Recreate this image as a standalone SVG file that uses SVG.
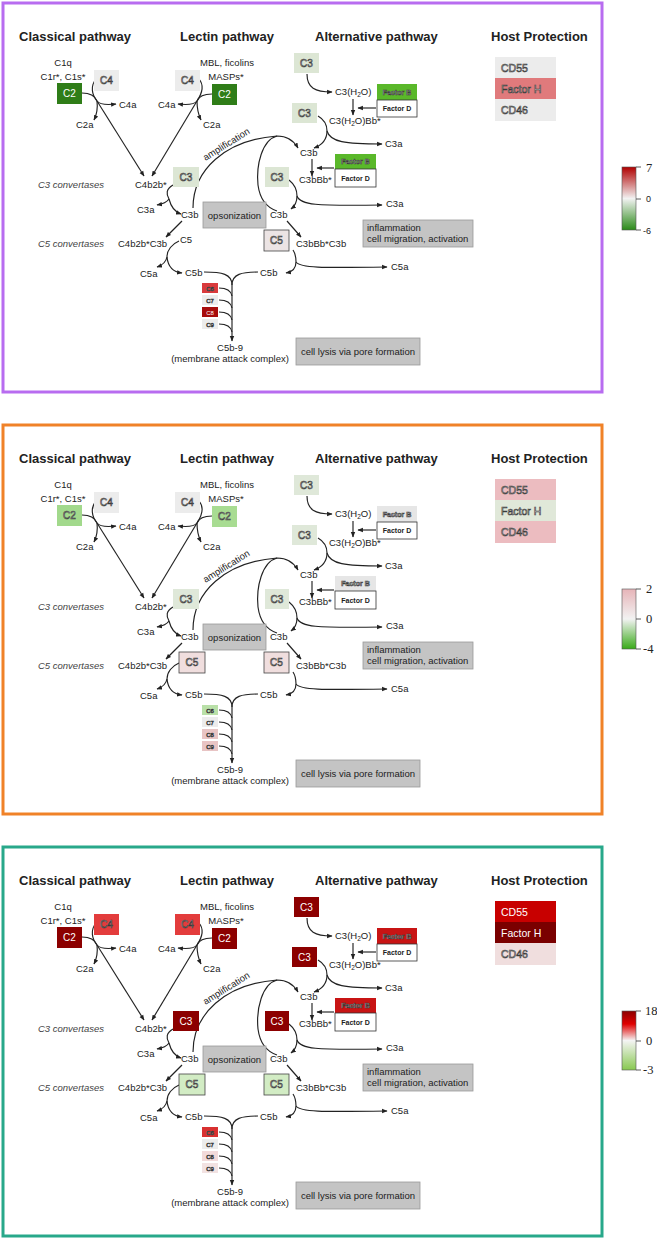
<svg xmlns="http://www.w3.org/2000/svg" width="657" height="1240" viewBox="0 0 657 1240">
<style>
text{font-family:"Liberation Sans",Arial,sans-serif;fill:#222}
.h{font-size:13px;font-weight:bold}
.t{font-size:9.5px}
.it{font-style:italic;fill:#444}
.m{text-anchor:middle}
.bx{font-size:10px;text-anchor:middle}
.ot{fill:#e4e4e4;stroke:#3a3a3a;stroke-width:0.6px}
.wt{fill:#fff}
.sm{font-size:6px;text-anchor:middle}
.fb{font-size:7px;font-weight:bold;text-anchor:middle}
.ln{fill:none;stroke:#222;stroke-width:1.15}
.ar{marker-end:url(#ah)}
.fd{fill:#fff;stroke:#333;stroke-width:0.8}
.gb{fill:#c4c4c4;stroke:#9a9a9a;stroke-width:0.8}
.bd{stroke:#444;stroke-width:0.8}
.frame{fill:#fff;stroke-width:3}
.tk{stroke:#333;stroke-width:0.8;fill:none}
.ser{font-family:"Liberation Serif","Times New Roman",serif;font-size:12.5px}
.lg{font-size:9px}
</style>
<defs>
<marker id="ah" viewBox="0 0 10 10" refX="9" refY="5" markerWidth="5.5" markerHeight="5.5" markerUnits="userSpaceOnUse" orient="auto"><path d="M0,1 L10,5 L0,9 z" fill="#222"/></marker>
<linearGradient id="g1" x1="0" y1="0" x2="0" y2="1"><stop offset="0" stop-color="#b00000"/><stop offset="0.5" stop-color="#f2f2f2"/><stop offset="1" stop-color="#2a8a18"/></linearGradient>
<linearGradient id="g2" x1="0" y1="0" x2="0" y2="1"><stop offset="0" stop-color="#e6b4b8"/><stop offset="0.5" stop-color="#f2f2f2"/><stop offset="1" stop-color="#38aa18"/></linearGradient>
<linearGradient id="g3" x1="0" y1="0" x2="0" y2="1"><stop offset="0" stop-color="#8c0000"/><stop offset="0.22" stop-color="#e00000"/><stop offset="0.5" stop-color="#f4f4f4"/><stop offset="1" stop-color="#88c850"/></linearGradient>
</defs>

<!-- ================= PANEL 1 ================= -->
<g id="panel1">
<rect class="frame" x="3" y="3" width="599" height="389" stroke="#b86cf0"/>
<g id="p1-titles">
<text class="h" x="19" y="41">Classical pathway</text>
<text class="h" x="180" y="41">Lectin pathway</text>
<text class="h" x="315" y="41">Alternative pathway</text>
<text class="h" x="491" y="41">Host Protection</text>
</g>
<g id="p1-connectors">
<path class="ln" d="M82,93 C90,93 95,96 97,101"/>
<path class="ln" d="M96,79 C90,86 92,95 97,101"/>
<path class="ln ar" d="M97,101 C98,109 97,114 94,120"/>
<path class="ln ar" d="M97,101 C100,105 107,105 116,104"/>
<path class="ln ar" d="M97,101 L144,176"/>
<path class="ln" d="M212,94 C205,94 199,96 197,101"/>
<path class="ln" d="M199,79 C205,86 201,95 197,101"/>
<path class="ln ar" d="M197,101 C194,105 187,105 178,104"/>
<path class="ln ar" d="M197,101 C197,109 198,114 201,120"/>
<path class="ln ar" d="M197,101 L152,176"/>
<path class="ln ar" d="M307,74 C307,88 315,92 332,92"/>
<path class="ln ar" d="M376,108 L358,108"/>
<path class="ln ar" d="M353,99 L353,115"/>
<path class="ln" d="M318,116 C325,120 327,126 327,131"/>
<path class="ln ar" d="M327,131 C327,140 322,145 314,148"/>
<path class="ln ar" d="M327,131 C330,142 345,144 382,144"/>
<path class="ln ar" d="M334,168 L317,168"/>
<path class="ln ar" d="M312,159 L312,176"/>
<path class="ln ar" d="M193,208 C193,170 225,140 277,136 C287,136 294,141 298,148"/>
<path class="ln" d="M277,136 C262,140 256,165 258,185 C260,200 268,208 277,211"/>
<path class="ln" d="M173,185 C166,189 166,194 169,199"/>
<path class="ln ar" d="M169,199 C167,202 163,204 157,205"/>
<path class="ln ar" d="M169,199 C171,207 175,212 181,214"/>
<path class="ln" d="M289,180 C294,184 297,190 297,196"/>
<path class="ln ar" d="M297,196 C297,202 295,206 291,209"/>
<path class="ln ar" d="M297,196 C300,205 315,206 382,205"/>
<path class="ln ar" d="M182,221 L166,237"/>
<path class="ln" d="M179,241 C172,244 167,250 167,257"/>
<path class="ln ar" d="M167,257 C166,262 163,265 157,267"/>
<path class="ln ar" d="M167,257 C168,267 173,272 182,273"/>
<path class="ln ar" d="M287,221 L301,237"/>
<path class="ln" d="M293,250 C295,253 296,258 296,262"/>
<path class="ln ar" d="M296,262 C296,268 292,272 286,273"/>
<path class="ln ar" d="M296,262 C300,268 320,268 387,267"/>
<path class="ln" d="M204,272 C222,272 232,274 232,285"/>
<path class="ln" d="M258,272 C242,272 232,274 232,285"/>
<path class="ln ar" d="M232,285 L232,341"/>
<path class="ln" d="M219,288 C226,288 231,291 232,296"/>
<path class="ln" d="M219,300 C226,300 231,303 232,308"/>
<path class="ln" d="M219,312 C226,312 231,315 232,320"/>
<path class="ln" d="M219,324 C226,324 231,327 232,332"/>
</g>
<g id="p1-labels">
<text class="t m" x="63" y="66">C1q</text>
<text class="t m" x="63" y="80">C1r*, C1s*</text>
<text class="t" x="119" y="108">C4a</text>
<text class="t" x="76" y="128">C2a</text>
<text class="t m" x="227" y="66">MBL, ficolins</text>
<text class="t m" x="226" y="80">MASPs*</text>
<text class="t" x="158" y="108">C4a</text>
<text class="t" x="203" y="128">C2a</text>
<text class="t" x="135" y="188">C4b2b*</text>
<text class="t it" x="38" y="188">C3 convertases</text>
<text class="t" x="137" y="213">C3a</text>
<text class="t" x="181" y="218">C3b</text>
<text class="t" x="118" y="247">C4b2b*C3b</text>
<text class="t it" x="38" y="247">C5 convertases</text>
<text class="t" x="180" y="243">C5</text>
<text class="t" x="140" y="277">C5a</text>
<text class="t" x="185" y="276">C5b</text>
<text class="t" x="260" y="276">C5b</text>
<text class="t m" x="230" y="351">C5b-9</text>
<text class="t m" x="230" y="362">(membrane attack complex)</text>
<text class="t" x="335" y="95">C3(H<tspan font-size="6.5" dy="2">2</tspan><tspan dy="-2">O)</tspan></text>
<text class="t" x="329" y="124">C3(H<tspan font-size="6.5" dy="2">2</tspan><tspan dy="-2">O)Bb*</tspan></text>
<text class="t" x="385" y="147">C3a</text>
<text class="t" x="300" y="156">C3b</text>
<text class="t" x="299" y="183">C3bBb*</text>
<text class="t" x="386" y="207">C3a</text>
<text class="t" x="270" y="218">C3b</text>
<text class="t" x="296" y="247">C3bBb*C3b</text>
<text class="t" x="391" y="270">C5a</text>
<text class="t m" transform="translate(228,147) rotate(-32)" x="0" y="0">amplification</text>
</g>
<g id="p1-opsonization"><rect class="gb" x="203" y="202" width="63" height="26"/><text class="t m" x="234.5" y="219" font-size="10">opsonization</text></g>
<g id="p1-inflammation"><rect class="gb" x="363" y="220" width="110" height="27"/><text class="t" x="367" y="231">inflammation</text><text class="t" x="367" y="242">cell migration, activation</text></g>
<g id="p1-lysis"><rect class="gb" x="296" y="338" width="124" height="27"/><text class="t m" x="358" y="355">cell lysis via pore formation</text></g>
<g id="p1-C4-classical"><rect x="94" y="70" width="25" height="21" fill="#ececec"/><text class="bx ot" x="106.5" y="84">C4</text></g>
<g id="p1-C2-classical"><rect x="57" y="83" width="25" height="21" fill="#2f7d18"/><text class="bx wt" x="69.5" y="97">C2</text></g>
<g id="p1-C4-lectin"><rect x="175" y="70" width="25" height="21" fill="#ececec"/><text class="bx ot" x="187.5" y="84">C4</text></g>
<g id="p1-C2-lectin"><rect x="212" y="84" width="25" height="21" fill="#2f7d18"/><text class="bx wt" x="224.5" y="98">C2</text></g>
<g id="p1-C3-alt1"><rect x="294" y="53" width="25" height="20" fill="#dce6d4"/><text class="bx ot" x="306.5" y="66.5">C3</text></g>
<g id="p1-FactorB-1"><rect x="377" y="84" width="40" height="16" fill="#5ab82a"/><text class="fb ot" x="397" y="94.5">Factor B</text></g>
<g id="p1-FactorD-1"><rect class="fd" x="377" y="100" width="40" height="17"/><text class="fb" x="397" y="111">Factor D</text></g>
<g id="p1-C3-alt2"><rect x="292" y="103" width="25" height="20" fill="#dce6d4"/><text class="bx ot" x="304.5" y="116.5">C3</text></g>
<g id="p1-FactorB-2"><rect x="335" y="154" width="41" height="15" fill="#5ab82a"/><text class="fb ot" x="355.5" y="164">Factor B</text></g>
<g id="p1-FactorD-2"><rect class="fd" x="335" y="169" width="41" height="18"/><text class="fb" x="355.5" y="180.5">Factor D</text></g>
<g id="p1-C3-lectin"><rect x="173" y="167" width="26" height="20" fill="#dce6d4"/><text class="bx ot" x="186" y="180.5">C3</text></g>
<g id="p1-C3-alt3"><rect x="265" y="167" width="24" height="20" fill="#dce6d4"/><text class="bx ot" x="277" y="180.5">C3</text></g>
<g id="p1-C5-alt"><rect class="bd" x="264" y="230" width="25" height="21" fill="#ece4e4"/><text class="bx ot" x="276.5" y="244">C5</text></g>
<g id="p1-C6"><rect x="202" y="283" width="16" height="10" fill="#d93a3c"/><text class="sm ot" x="210" y="290.5">C6</text></g>
<g id="p1-C7"><rect x="202" y="295" width="16" height="10" fill="#ececec"/><text class="sm ot" x="210" y="302.5">C7</text></g>
<g id="p1-C8"><rect x="202" y="307" width="16" height="10" fill="#a80c0c"/><text class="sm wt" x="210" y="314.5">C8</text></g>
<g id="p1-C9"><rect x="202" y="319" width="16" height="10" fill="#ececec"/><text class="sm ot" x="210" y="326.5">C9</text></g>
<g id="p1-CD55"><rect x="495" y="57" width="61" height="21" fill="#ececec"/><text class="ot" x="501" y="71.5" font-size="10.5">CD55</text></g>
<g id="p1-FactorH"><rect x="495" y="78" width="61" height="21" fill="#e07a7c"/><text class="ot" x="501" y="92.5" font-size="10.5">Factor H</text></g>
<g id="p1-CD46"><rect x="495" y="99" width="61" height="22" fill="#ececec"/><text class="ot" x="501" y="114" font-size="10.5">CD46</text></g>
<g id="p1-legend"><rect x="622" y="167" width="14" height="63" fill="url(#g1)" stroke="#555" stroke-width="0.6"/><path class="tk" d="M636,167 h5 M636,199 h5 M636,230 h5"/><text class="ser" x="646" y="172" font-size="14">7</text><text class="lg" x="646" y="202">0</text><text class="lg" x="643" y="234">-6</text></g>
</g>

<!-- ================= PANEL 2 ================= -->
<g id="panel2" transform="translate(0,422)">
<rect class="frame" x="3" y="3" width="599" height="389" stroke="#f08228"/>
<g id="p2-titles">
<text class="h" x="19" y="41">Classical pathway</text>
<text class="h" x="180" y="41">Lectin pathway</text>
<text class="h" x="315" y="41">Alternative pathway</text>
<text class="h" x="491" y="41">Host Protection</text>
</g>
<g id="p2-connectors">
<path class="ln" d="M82,93 C90,93 95,96 97,101"/>
<path class="ln" d="M96,79 C90,86 92,95 97,101"/>
<path class="ln ar" d="M97,101 C98,109 97,114 94,120"/>
<path class="ln ar" d="M97,101 C100,105 107,105 116,104"/>
<path class="ln ar" d="M97,101 L144,176"/>
<path class="ln" d="M212,94 C205,94 199,96 197,101"/>
<path class="ln" d="M199,79 C205,86 201,95 197,101"/>
<path class="ln ar" d="M197,101 C194,105 187,105 178,104"/>
<path class="ln ar" d="M197,101 C197,109 198,114 201,120"/>
<path class="ln ar" d="M197,101 L152,176"/>
<path class="ln ar" d="M307,74 C307,88 315,92 332,92"/>
<path class="ln ar" d="M376,108 L358,108"/>
<path class="ln ar" d="M353,99 L353,115"/>
<path class="ln" d="M318,116 C325,120 327,126 327,131"/>
<path class="ln ar" d="M327,131 C327,140 322,145 314,148"/>
<path class="ln ar" d="M327,131 C330,142 345,144 382,144"/>
<path class="ln ar" d="M334,168 L317,168"/>
<path class="ln ar" d="M312,159 L312,176"/>
<path class="ln ar" d="M193,208 C193,170 225,140 277,136 C287,136 294,141 298,148"/>
<path class="ln" d="M277,136 C262,140 256,165 258,185 C260,200 268,208 277,211"/>
<path class="ln" d="M173,185 C166,189 166,194 169,199"/>
<path class="ln ar" d="M169,199 C167,202 163,204 157,205"/>
<path class="ln ar" d="M169,199 C171,207 175,212 181,214"/>
<path class="ln" d="M289,180 C294,184 297,190 297,196"/>
<path class="ln ar" d="M297,196 C297,202 295,206 291,209"/>
<path class="ln ar" d="M297,196 C300,205 315,206 382,205"/>
<path class="ln ar" d="M182,221 L166,237"/>
<path class="ln" d="M179,241 C172,244 167,250 167,257"/>
<path class="ln ar" d="M167,257 C166,262 163,265 157,267"/>
<path class="ln ar" d="M167,257 C168,267 173,272 182,273"/>
<path class="ln ar" d="M287,221 L301,237"/>
<path class="ln" d="M293,250 C295,253 296,258 296,262"/>
<path class="ln ar" d="M296,262 C296,268 292,272 286,273"/>
<path class="ln ar" d="M296,262 C300,268 320,268 387,267"/>
<path class="ln" d="M204,272 C222,272 232,274 232,285"/>
<path class="ln" d="M258,272 C242,272 232,274 232,285"/>
<path class="ln ar" d="M232,285 L232,341"/>
<path class="ln" d="M219,288 C226,288 231,291 232,296"/>
<path class="ln" d="M219,300 C226,300 231,303 232,308"/>
<path class="ln" d="M219,312 C226,312 231,315 232,320"/>
<path class="ln" d="M219,324 C226,324 231,327 232,332"/>
</g>
<g id="p2-labels">
<text class="t m" x="63" y="66">C1q</text>
<text class="t m" x="63" y="80">C1r*, C1s*</text>
<text class="t" x="119" y="108">C4a</text>
<text class="t" x="76" y="128">C2a</text>
<text class="t m" x="227" y="66">MBL, ficolins</text>
<text class="t m" x="226" y="80">MASPs*</text>
<text class="t" x="158" y="108">C4a</text>
<text class="t" x="203" y="128">C2a</text>
<text class="t" x="135" y="188">C4b2b*</text>
<text class="t it" x="38" y="188">C3 convertases</text>
<text class="t" x="137" y="213">C3a</text>
<text class="t" x="181" y="218">C3b</text>
<text class="t" x="118" y="247">C4b2b*C3b</text>
<text class="t it" x="38" y="247">C5 convertases</text>
<text class="t" x="140" y="277">C5a</text>
<text class="t" x="185" y="276">C5b</text>
<text class="t" x="260" y="276">C5b</text>
<text class="t m" x="230" y="351">C5b-9</text>
<text class="t m" x="230" y="362">(membrane attack complex)</text>
<text class="t" x="335" y="95">C3(H<tspan font-size="6.5" dy="2">2</tspan><tspan dy="-2">O)</tspan></text>
<text class="t" x="329" y="124">C3(H<tspan font-size="6.5" dy="2">2</tspan><tspan dy="-2">O)Bb*</tspan></text>
<text class="t" x="385" y="147">C3a</text>
<text class="t" x="300" y="156">C3b</text>
<text class="t" x="299" y="183">C3bBb*</text>
<text class="t" x="386" y="207">C3a</text>
<text class="t" x="270" y="218">C3b</text>
<text class="t" x="296" y="247">C3bBb*C3b</text>
<text class="t" x="391" y="270">C5a</text>
<text class="t m" transform="translate(228,147) rotate(-32)" x="0" y="0">amplification</text>
</g>
<g id="p2-opsonization"><rect class="gb" x="203" y="202" width="63" height="26"/><text class="t m" x="234.5" y="219" font-size="10">opsonization</text></g>
<g id="p2-inflammation"><rect class="gb" x="363" y="220" width="110" height="27"/><text class="t" x="367" y="231">inflammation</text><text class="t" x="367" y="242">cell migration, activation</text></g>
<g id="p2-lysis"><rect class="gb" x="296" y="338" width="124" height="27"/><text class="t m" x="358" y="355">cell lysis via pore formation</text></g>
<g id="p2-C4-classical"><rect x="94" y="70" width="25" height="21" fill="#ececec"/><text class="bx ot" x="106.5" y="84">C4</text></g>
<g id="p2-C2-classical"><rect x="57" y="83" width="25" height="21" fill="#a2d98c"/><text class="bx ot" x="69.5" y="97">C2</text></g>
<g id="p2-C4-lectin"><rect x="175" y="70" width="25" height="21" fill="#ececec"/><text class="bx ot" x="187.5" y="84">C4</text></g>
<g id="p2-C2-lectin"><rect x="212" y="84" width="25" height="21" fill="#a8dc92"/><text class="bx ot" x="224.5" y="98">C2</text></g>
<g id="p2-C3-alt1"><rect x="294" y="53" width="25" height="20" fill="#dfe8d9"/><text class="bx ot" x="306.5" y="66.5">C3</text></g>
<g id="p2-FactorB-1"><rect x="377" y="84" width="40" height="16" fill="#e6e6e6"/><text class="fb ot" x="397" y="94.5">Factor B</text></g>
<g id="p2-FactorD-1"><rect class="fd" x="377" y="100" width="40" height="17"/><text class="fb" x="397" y="111">Factor D</text></g>
<g id="p2-C3-alt2"><rect x="292" y="103" width="25" height="20" fill="#dfe8d9"/><text class="bx ot" x="304.5" y="116.5">C3</text></g>
<g id="p2-FactorB-2"><rect x="335" y="154" width="41" height="15" fill="#e6e6e6"/><text class="fb ot" x="355.5" y="164">Factor B</text></g>
<g id="p2-FactorD-2"><rect class="fd" x="335" y="169" width="41" height="18"/><text class="fb" x="355.5" y="180.5">Factor D</text></g>
<g id="p2-C3-lectin"><rect x="173" y="167" width="26" height="20" fill="#dfe8d9"/><text class="bx ot" x="186" y="180.5">C3</text></g>
<g id="p2-C3-alt3"><rect x="265" y="167" width="24" height="20" fill="#dfe8d9"/><text class="bx ot" x="277" y="180.5">C3</text></g>
<g id="p2-C5-classical"><rect class="bd" x="179" y="230" width="26" height="21" fill="#f0dede"/><text class="bx ot" x="192" y="244">C5</text></g>
<g id="p2-C5-alt"><rect class="bd" x="264" y="230" width="25" height="21" fill="#f0dede"/><text class="bx ot" x="276.5" y="244">C5</text></g>
<g id="p2-C6"><rect x="202" y="283" width="16" height="10" fill="#b9e0a8"/><text class="sm ot" x="210" y="290.5">C6</text></g>
<g id="p2-C7"><rect x="202" y="295" width="16" height="10" fill="#ececec"/><text class="sm ot" x="210" y="302.5">C7</text></g>
<g id="p2-C8"><rect x="202" y="307" width="16" height="10" fill="#e8c4c4"/><text class="sm ot" x="210" y="314.5">C8</text></g>
<g id="p2-C9"><rect x="202" y="319" width="16" height="10" fill="#e8c4c4"/><text class="sm ot" x="210" y="326.5">C9</text></g>
<g id="p2-CD55"><rect x="495" y="57" width="61" height="21" fill="#ecbcc0"/><text class="ot" x="501" y="71.5" font-size="10.5">CD55</text></g>
<g id="p2-FactorH"><rect x="495" y="78" width="61" height="21" fill="#e0e8d9"/><text class="ot" x="501" y="92.5" font-size="10.5">Factor H</text></g>
<g id="p2-CD46"><rect x="495" y="99" width="61" height="22" fill="#ecbcc0"/><text class="ot" x="501" y="114" font-size="10.5">CD46</text></g>
<g id="p2-legend"><rect x="622" y="167" width="14" height="60" fill="url(#g2)" stroke="#555" stroke-width="0.6"/><path class="tk" d="M636,167 h5 M636,197 h5 M636,227 h5"/><text class="ser" x="646" y="171">2</text><text class="ser" x="646" y="201">0</text><text class="ser" x="643" y="231">-4</text></g>
</g>

<!-- ================= PANEL 3 ================= -->
<g id="panel3" transform="translate(0,844)">
<rect class="frame" x="3" y="3" width="599" height="389" stroke="#28a88a"/>
<g id="p3-titles">
<text class="h" x="19" y="41">Classical pathway</text>
<text class="h" x="180" y="41">Lectin pathway</text>
<text class="h" x="315" y="41">Alternative pathway</text>
<text class="h" x="491" y="41">Host Protection</text>
</g>
<g id="p3-connectors">
<path class="ln" d="M82,93 C90,93 95,96 97,101"/>
<path class="ln" d="M96,79 C90,86 92,95 97,101"/>
<path class="ln ar" d="M97,101 C98,109 97,114 94,120"/>
<path class="ln ar" d="M97,101 C100,105 107,105 116,104"/>
<path class="ln ar" d="M97,101 L144,176"/>
<path class="ln" d="M212,94 C205,94 199,96 197,101"/>
<path class="ln" d="M199,79 C205,86 201,95 197,101"/>
<path class="ln ar" d="M197,101 C194,105 187,105 178,104"/>
<path class="ln ar" d="M197,101 C197,109 198,114 201,120"/>
<path class="ln ar" d="M197,101 L152,176"/>
<path class="ln ar" d="M307,74 C307,88 315,92 332,92"/>
<path class="ln ar" d="M376,108 L358,108"/>
<path class="ln ar" d="M353,99 L353,115"/>
<path class="ln" d="M318,116 C325,120 327,126 327,131"/>
<path class="ln ar" d="M327,131 C327,140 322,145 314,148"/>
<path class="ln ar" d="M327,131 C330,142 345,144 382,144"/>
<path class="ln ar" d="M334,168 L317,168"/>
<path class="ln ar" d="M312,159 L312,176"/>
<path class="ln ar" d="M193,208 C193,170 225,140 277,136 C287,136 294,141 298,148"/>
<path class="ln" d="M277,136 C262,140 256,165 258,185 C260,200 268,208 277,211"/>
<path class="ln" d="M173,185 C166,189 166,194 169,199"/>
<path class="ln ar" d="M169,199 C167,202 163,204 157,205"/>
<path class="ln ar" d="M169,199 C171,207 175,212 181,214"/>
<path class="ln" d="M289,180 C294,184 297,190 297,196"/>
<path class="ln ar" d="M297,196 C297,202 295,206 291,209"/>
<path class="ln ar" d="M297,196 C300,205 315,206 382,205"/>
<path class="ln ar" d="M182,221 L166,237"/>
<path class="ln" d="M179,241 C172,244 167,250 167,257"/>
<path class="ln ar" d="M167,257 C166,262 163,265 157,267"/>
<path class="ln ar" d="M167,257 C168,267 173,272 182,273"/>
<path class="ln ar" d="M287,221 L301,237"/>
<path class="ln" d="M293,250 C295,253 296,258 296,262"/>
<path class="ln ar" d="M296,262 C296,268 292,272 286,273"/>
<path class="ln ar" d="M296,262 C300,268 320,268 387,267"/>
<path class="ln" d="M204,272 C222,272 232,274 232,285"/>
<path class="ln" d="M258,272 C242,272 232,274 232,285"/>
<path class="ln ar" d="M232,285 L232,341"/>
<path class="ln" d="M219,288 C226,288 231,291 232,296"/>
<path class="ln" d="M219,300 C226,300 231,303 232,308"/>
<path class="ln" d="M219,312 C226,312 231,315 232,320"/>
<path class="ln" d="M219,324 C226,324 231,327 232,332"/>
</g>
<g id="p3-labels">
<text class="t m" x="63" y="66">C1q</text>
<text class="t m" x="63" y="80">C1r*, C1s*</text>
<text class="t" x="119" y="108">C4a</text>
<text class="t" x="76" y="128">C2a</text>
<text class="t m" x="227" y="66">MBL, ficolins</text>
<text class="t m" x="226" y="80">MASPs*</text>
<text class="t" x="158" y="108">C4a</text>
<text class="t" x="203" y="128">C2a</text>
<text class="t" x="135" y="188">C4b2b*</text>
<text class="t it" x="38" y="188">C3 convertases</text>
<text class="t" x="137" y="213">C3a</text>
<text class="t" x="181" y="218">C3b</text>
<text class="t" x="118" y="247">C4b2b*C3b</text>
<text class="t it" x="38" y="247">C5 convertases</text>
<text class="t" x="140" y="277">C5a</text>
<text class="t" x="185" y="276">C5b</text>
<text class="t" x="260" y="276">C5b</text>
<text class="t m" x="230" y="351">C5b-9</text>
<text class="t m" x="230" y="362">(membrane attack complex)</text>
<text class="t" x="335" y="95">C3(H<tspan font-size="6.5" dy="2">2</tspan><tspan dy="-2">O)</tspan></text>
<text class="t" x="329" y="124">C3(H<tspan font-size="6.5" dy="2">2</tspan><tspan dy="-2">O)Bb*</tspan></text>
<text class="t" x="385" y="147">C3a</text>
<text class="t" x="300" y="156">C3b</text>
<text class="t" x="299" y="183">C3bBb*</text>
<text class="t" x="386" y="207">C3a</text>
<text class="t" x="270" y="218">C3b</text>
<text class="t" x="296" y="247">C3bBb*C3b</text>
<text class="t" x="391" y="270">C5a</text>
<text class="t m" transform="translate(228,147) rotate(-32)" x="0" y="0">amplification</text>
</g>
<g id="p3-opsonization"><rect class="gb" x="203" y="202" width="63" height="26"/><text class="t m" x="234.5" y="219" font-size="10">opsonization</text></g>
<g id="p3-inflammation"><rect class="gb" x="363" y="220" width="110" height="27"/><text class="t" x="367" y="231">inflammation</text><text class="t" x="367" y="242">cell migration, activation</text></g>
<g id="p3-lysis"><rect class="gb" x="296" y="338" width="124" height="27"/><text class="t m" x="358" y="355">cell lysis via pore formation</text></g>
<g id="p3-C4-classical"><rect x="94" y="70" width="25" height="21" fill="#e33c3c"/><text class="bx ot" x="106.5" y="84">C4</text></g>
<g id="p3-C2-classical"><rect x="57" y="83" width="25" height="21" fill="#8c0000"/><text class="bx wt" x="69.5" y="97">C2</text></g>
<g id="p3-C4-lectin"><rect x="175" y="70" width="25" height="21" fill="#e33c3c"/><text class="bx ot" x="187.5" y="84">C4</text></g>
<g id="p3-C2-lectin"><rect x="212" y="84" width="25" height="21" fill="#8c0000"/><text class="bx wt" x="224.5" y="98">C2</text></g>
<g id="p3-C3-alt1"><rect x="294" y="53" width="25" height="20" fill="#8c0000"/><text class="bx wt" x="306.5" y="66.5">C3</text></g>
<g id="p3-FactorB-1"><rect x="377" y="84" width="40" height="16" fill="#c81414"/><text class="fb ot" x="397" y="94.5">Factor B</text></g>
<g id="p3-FactorD-1"><rect class="fd" x="377" y="100" width="40" height="17"/><text class="fb" x="397" y="111">Factor D</text></g>
<g id="p3-C3-alt2"><rect x="292" y="103" width="25" height="20" fill="#8c0000"/><text class="bx wt" x="304.5" y="116.5">C3</text></g>
<g id="p3-FactorB-2"><rect x="335" y="154" width="41" height="15" fill="#c81414"/><text class="fb ot" x="355.5" y="164">Factor B</text></g>
<g id="p3-FactorD-2"><rect class="fd" x="335" y="169" width="41" height="18"/><text class="fb" x="355.5" y="180.5">Factor D</text></g>
<g id="p3-C3-lectin"><rect x="173" y="167" width="26" height="20" fill="#8c0000"/><text class="bx wt" x="186" y="180.5">C3</text></g>
<g id="p3-C3-alt3"><rect x="265" y="167" width="24" height="20" fill="#8c0000"/><text class="bx wt" x="277" y="180.5">C3</text></g>
<g id="p3-C5-classical"><rect class="bd" x="179" y="230" width="26" height="21" fill="#d2ecc4"/><text class="bx ot" x="192" y="244">C5</text></g>
<g id="p3-C5-alt"><rect class="bd" x="264" y="230" width="25" height="21" fill="#d2ecc4"/><text class="bx ot" x="276.5" y="244">C5</text></g>
<g id="p3-C6"><rect x="202" y="283" width="16" height="10" fill="#d83030"/><text class="sm ot" x="210" y="290.5">C6</text></g>
<g id="p3-C7"><rect x="202" y="295" width="16" height="10" fill="#ececec"/><text class="sm ot" x="210" y="302.5">C7</text></g>
<g id="p3-C8"><rect x="202" y="307" width="16" height="10" fill="#f2dada"/><text class="sm ot" x="210" y="314.5">C8</text></g>
<g id="p3-C9"><rect x="202" y="319" width="16" height="10" fill="#f2e2e2"/><text class="sm ot" x="210" y="326.5">C9</text></g>
<g id="p3-CD55"><rect x="495" y="57" width="61" height="21" fill="#c80000"/><text class="wt" x="501" y="71.5" font-size="10.5">CD55</text></g>
<g id="p3-FactorH"><rect x="495" y="78" width="61" height="21" fill="#7a0000"/><text class="wt" x="501" y="92.5" font-size="10.5">Factor H</text></g>
<g id="p3-CD46"><rect x="495" y="99" width="61" height="22" fill="#f0dede"/><text class="ot" x="501" y="114" font-size="10.5">CD46</text></g>
<g id="p3-legend"><rect x="622" y="167" width="14" height="59" fill="url(#g3)" stroke="#555" stroke-width="0.6"/><path class="tk" d="M636,167 h5 M636,197 h5 M636,226 h5"/><text class="ser" x="645" y="171">18</text><text class="ser" x="646" y="201">0</text><text class="ser" x="643" y="230">-3</text></g>
</g>
</svg>
